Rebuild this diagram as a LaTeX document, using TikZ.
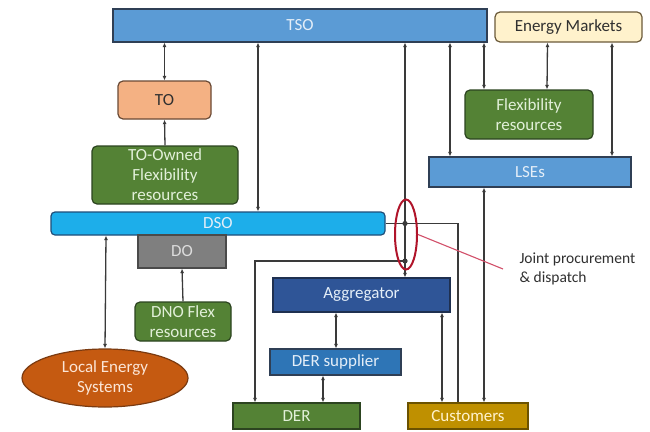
\documentclass[tikz,border=0pt]{standalone}
\usepackage{fontspec}
\setmainfont{Carlito}
\usetikzlibrary{arrows.meta,shapes.geometric}

\definecolor{linegray}{HTML}{3A3A3A}
\definecolor{tsoblue}{HTML}{5B9BD5}
\definecolor{tsoedge}{HTML}{2F3F55}
\definecolor{paletext}{HTML}{E4EEF8}
\definecolor{mktfill}{HTML}{FFF2CC}
\definecolor{mktedge}{HTML}{6B5A3A}
\definecolor{tofill}{HTML}{F4B183}
\definecolor{toedge}{HTML}{6A4A35}
\definecolor{flexgreen}{HTML}{548235}
\definecolor{flexedge}{HTML}{2C4420}
\definecolor{flextext}{HTML}{E2F0D9}
\definecolor{dsofill}{HTML}{1DAEEA}
\definecolor{dsoedge}{HTML}{1F4E79}
\definecolor{dofill}{HTML}{7F7F7F}
\definecolor{doedge}{HTML}{4A4A4A}
\definecolor{dotext}{HTML}{DDDDDD}
\definecolor{lesfill}{HTML}{C55A11}
\definecolor{lesedge}{HTML}{7A3A10}
\definecolor{lestext}{HTML}{FBE5D6}
\definecolor{aggfill}{HTML}{2F5597}
\definecolor{aggedge}{HTML}{1F3050}
\definecolor{supfill}{HTML}{2E75B6}
\definecolor{custfill}{HTML}{BF9000}
\definecolor{custedge}{HTML}{6B5200}
\definecolor{custtext}{HTML}{FFF2CC}
\definecolor{marker}{HTML}{B0142A}
\definecolor{pointer}{HTML}{D2506A}
\definecolor{notetext}{HTML}{303030}

\tikzset{
  base/.style={line width=1.2pt, inner sep=0pt, align=center,
    font=\fontsize{17}{20}\selectfont},
  flat/.style n args={3}{base, rectangle, fill=#1, draw=#2, text=#3},
  soft/.style n args={3}{base, rectangle, rounded corners=5pt, fill=#1, draw=#2, text=#3},
  conn/.style={draw=linegray, line width=1.3pt},
  dbl/.style={conn, {Latex[length=4.5pt,width=4pt]}-{Latex[length=4.5pt,width=4pt]}},
  sgl/.style={conn, -{Latex[length=4.5pt,width=4pt]}},
}

\begin{document}
\begin{tikzpicture}[x=1pt,y=-1pt]
\fill[white] (0,0) rectangle (650,431);
\useasboundingbox (0,0) rectangle (650,431);

% transmission level
\node[flat={tsoblue}{tsoedge}{paletext}, minimum width=374pt, minimum height=33pt] (TSO) at (300,25.5) {TSO};
\node[soft={mktfill}{mktedge}{notetext}, minimum width=147pt, minimum height=30pt] (EM) at (568.5,27) {Energy Markets};
\node[soft={tofill}{toedge}{notetext}, minimum width=93pt, minimum height=38pt] (TO) at (164.5,100) {TO};
\node[soft={flexgreen}{flexedge}{flextext}, minimum width=146pt, minimum height=58pt] (TOF) at (165,175) {TO-Owned\\Flexibility\\resources};
\node[soft={flexgreen}{flexedge}{flextext}, minimum width=128pt, minimum height=49pt] (FLX) at (529,114.5) {Flexibility\\resources};
\node[flat={tsoblue}{tsoedge}{paletext}, minimum width=202pt, minimum height=30pt] (LSE) at (530,172) {LSEs};

% distribution level
\node[soft={dsofill}{dsoedge}{paletext}, rounded corners=4pt, minimum width=334pt, minimum height=23pt] (DSO) at (218,223.5) {DSO};
\node[flat={dofill}{doedge}{dotext}, minimum width=88pt, minimum height=33pt] (DO) at (182,251.5) {DO};
\node[soft={flexgreen}{flexedge}{flextext}, minimum width=96pt, minimum height=39pt] (DNO) at (183,321.5) {DNO Flex\\resources};
\node[base, ellipse, fill=lesfill, draw=lesedge, text=lestext, minimum width=166pt, minimum height=58pt] (LES) at (105,378) {Local Energy\\Systems};

% market participants
\node[flat={aggfill}{aggedge}{paletext}, minimum width=177pt, minimum height=34pt] (Agg) at (361.5,295) {Aggregator};
\node[flat={supfill}{tsoedge}{paletext}, minimum width=131pt, minimum height=26pt] (DERS) at (335.5,362) {DER supplier};
\node[flat={flexgreen}{flexedge}{flextext}, minimum width=127pt, minimum height=26pt] (DER) at (296.5,416) {DER};
\node[flat={custfill}{custedge}{custtext}, minimum width=120pt, minimum height=26pt] (Cust) at (468,416) {Customers};

% connectors from the TSO and the markets
\draw[dbl] (TO.north |- TSO.south) -- (TO.north);
\draw[sgl] (TOF.north) -- (TO.south);
\draw[dbl] ([xshift=-42pt]TSO.south) -- ([xshift=40pt]DSO.north);
\draw[dbl] ([xshift=105pt]TSO.south) -- ([xshift=43.5pt]Agg.north);
\draw[dbl] ([xshift=150pt]TSO.south) -- ([xshift=-80pt]LSE.north);
\draw[dbl] ([xshift=184pt]TSO.south) -- ([xshift=-45pt]FLX.north);
\draw[dbl] ([xshift=-21pt]EM.south) -- ([xshift=18pt]FLX.north);
\draw[dbl] ([xshift=43.5pt]EM.south) -- ([xshift=82pt]LSE.north);
\draw[dbl] ([xshift=-46pt]LSE.south) -- ([xshift=16pt]Cust.north);

% joint procurement branches
\coordinate (J1) at (405,223.5);
\coordinate (J2) at (405,261);
\draw[conn] (DSO.east) -- (J1);
\draw[conn] (J1) -| ([xshift=-10pt]Cust.north);
\draw[sgl] (J2) -| ([xshift=-41.5pt]DER.north);
\fill[linegray] (J1) circle (2.6pt) (J2) circle (2.6pt);

% distribution-side connectors
\draw[dbl] ([xshift=-112pt]DSO.south) -- (LES.north);
\draw[sgl] (DNO.north) -- (DO.south);
\draw[dbl] ([xshift=80.5pt]Agg.south) -- ([xshift=-26pt]Cust.north);
\draw[dbl] ([xshift=-25.5pt]Agg.south) -- ([xshift=0.5pt]DERS.north);
\draw[dbl] ([xshift=-12.5pt]DERS.south) -- ([xshift=26.5pt]DER.north);

% highlight and note
\node[ellipse, draw=marker, line width=2pt, minimum width=22pt, minimum height=70pt, inner sep=0pt] (hl) at (406,234.5) {};
\node[anchor=west, align=left, text=notetext, font=\fontsize{15.5}{19}\selectfont] (note) at (516,269) {Joint procurement\\\& dispatch};
\draw[pointer, line width=1.1pt] (hl.east) -- ([xshift=-13pt]note.west);
\end{tikzpicture}
\end{document}
